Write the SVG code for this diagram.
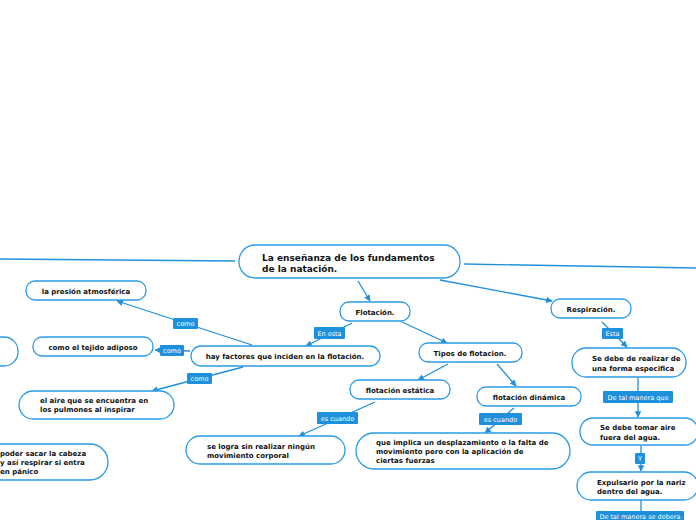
<svg xmlns="http://www.w3.org/2000/svg" width="696" height="520" viewBox="0 0 696 520">
<defs>
<style>
.n{fill:#fff;stroke:#2a9be6;stroke-width:1.3}
.t{font-family:"DejaVu Sans",Verdana,sans-serif;font-weight:bold;font-size:7px;fill:#111}
.tc{text-anchor:middle}
.big{font-size:9px}
.c{fill:none;stroke:#2090dc;stroke-width:1.3}
.lb{fill:#1e90dc}
.lt{font-family:"DejaVu Sans",Verdana,sans-serif;font-size:6.5px;fill:#fff}
</style>
<marker id="a" viewBox="0 0 10 10" refX="9" refY="5" markerWidth="5" markerHeight="5" orient="auto-start-reverse" markerUnits="strokeWidth">
<path d="M0,0 L10,5 L0,10 z" fill="#2090dc"/>
</marker>
</defs>
<rect width="696" height="520" fill="#fff"/>
<g id="connectors">
<path class="c" d="M0,259 L235,261"/>
<path class="c" d="M464,264 L696,268"/>
<path class="c" d="M358,281 L370,301" marker-end="url(#a)"/>
<path class="c" d="M440,280 L552,301" marker-end="url(#a)"/>
<path class="c" d="M352,323 L306,346" marker-end="url(#a)"/>
<path class="c" d="M252,345 L117,301" marker-end="url(#a)"/>
<path class="c" d="M190,351 L155,350" marker-end="url(#a)"/>
<path class="c" d="M243,367 L152,391" marker-end="url(#a)"/>
<path class="c" d="M402,322 L447,343" marker-end="url(#a)"/>
<path class="c" d="M448,364 L418,380" marker-end="url(#a)"/>
<path class="c" d="M497,364 L516,386" marker-end="url(#a)"/>
<path class="c" d="M375,402 L299,436" marker-end="url(#a)"/>
<path class="c" d="M514,408 L485,433" marker-end="url(#a)"/>
<path class="c" d="M602,322 L627,347" marker-end="url(#a)"/>
<path class="c" d="M638,378 L638,417" marker-end="url(#a)"/>
<path class="c" d="M641,446 L641,471" marker-end="url(#a)"/>
<path class="c" d="M641,500 L641,512"/>
<rect class="lb" x="314" y="327" width="31" height="12" rx="1"/>
<text class="lt" x="329.5" y="335.5" text-anchor="middle">En esta</text>
<rect class="lb" x="173" y="318" width="25" height="11" rx="1"/>
<text class="lt" x="185.5" y="326" text-anchor="middle">como</text>
<rect class="lb" x="160" y="345" width="24" height="11" rx="1"/>
<text class="lt" x="172" y="353" text-anchor="middle">como</text>
<rect class="lb" x="187" y="373" width="25" height="11" rx="1"/>
<text class="lt" x="199.5" y="381" text-anchor="middle">como</text>
<rect class="lb" x="317" y="412" width="41" height="12" rx="1"/>
<text class="lt" x="337.5" y="420.5" text-anchor="middle">es cuando</text>
<rect class="lb" x="479" y="413" width="43" height="12" rx="1"/>
<text class="lt" x="500.5" y="421.5" text-anchor="middle">es cuando</text>
<rect class="lb" x="602" y="328" width="21" height="11" rx="1"/>
<text class="lt" x="612.5" y="336" text-anchor="middle">Esta</text>
<rect class="lb" x="603" y="391" width="70" height="12" rx="1"/>
<text class="lt" x="638" y="399.5" text-anchor="middle">De tal manera que</text>
<rect class="lb" x="635" y="453" width="10" height="11" rx="1"/>
<text class="lt" x="640" y="461" text-anchor="middle">Y</text>
<rect class="lb" x="596" y="511" width="88" height="11" rx="1"/>
<text class="lt" x="640" y="519" text-anchor="middle">De tal manera se debera</text>
</g>
<g id="central">
<rect class="n" x="239" y="245" width="221" height="33" rx="16"/>
<text class="t big" x="262" y="261">La enseñanza de los fundamentos</text>
<text class="t big" x="262" y="272">de la natación.</text>
</g>
<g id="flotacion">
<rect class="n" x="340" y="302" width="70" height="19" rx="9"/>
<text class="t tc" x="375" y="314.5">Flotación.</text>
</g>
<g id="respiracion">
<rect class="n" x="551" y="299" width="80" height="19" rx="9"/>
<text class="t tc" x="591" y="311.5">Respiración.</text>
</g>
<g id="factores">
<rect class="n" x="191" y="346" width="189" height="20" rx="10"/>
<text class="t tc" x="285" y="358.5">hay factores que inciden en la flotación.</text>
</g>
<g id="presion">
<rect class="n" x="26" y="281" width="120" height="19" rx="9"/>
<text class="t tc" x="86" y="293.5">la presión atmosférica</text>
</g>
<g id="adiposo">
<rect class="n" x="33" y="337" width="120" height="19" rx="9"/>
<text class="t tc" x="93" y="349.5">como el tejido adiposo</text>
</g>
<g id="partial">
<rect class="n" x="-40" y="337" width="58" height="29" rx="14"/>
</g>
<g id="aire">
<rect class="n" x="19" y="391" width="155" height="28" rx="14"/>
<text class="t" x="40" y="403">el aire que se encuentra en</text>
<text class="t" x="40" y="412">los pulmones al inspirar</text>
</g>
<g id="cabeza">
<rect class="n" x="-40" y="444" width="148" height="36" rx="18"/>
<text class="t" x="0" y="455.5">poder sacar la cabeza</text>
<text class="t" x="0" y="464.5">y así respirar si entra</text>
<text class="t" x="0" y="473.5">en pánico</text>
</g>
<g id="tipos">
<rect class="n" x="419" y="343" width="103" height="19" rx="9"/>
<text class="t tc" x="470" y="355.5">Tipos de flotacion.</text>
</g>
<g id="estatica">
<rect class="n" x="350" y="380" width="100" height="19" rx="9"/>
<text class="t tc" x="400" y="392.5">flotación estática</text>
</g>
<g id="dinamica">
<rect class="n" x="477" y="387" width="104" height="19" rx="9"/>
<text class="t tc" x="529" y="399.5">flotación dinámica</text>
</g>
<g id="logra">
<rect class="n" x="186" y="436" width="159" height="28" rx="14"/>
<text class="t" x="207" y="449">se logra sin realizar ningún</text>
<text class="t" x="207" y="458">movimiento corporal</text>
</g>
<g id="implica">
<rect class="n" x="356" y="433" width="214" height="36" rx="18"/>
<text class="t" x="376" y="445">que implica un desplazamiento o la falta de</text>
<text class="t" x="376" y="454">movimiento pero con la aplicación de</text>
<text class="t" x="376" y="463">ciertas fuerzas</text>
</g>
<g id="especifica">
<rect class="n" x="572" y="348" width="114" height="29" rx="14"/>
<text class="t" x="592" y="361">Se debe de realizar de</text>
<text class="t" x="592" y="371">una forma especifica</text>
</g>
<g id="tomar">
<rect class="n" x="580" y="418" width="118" height="27" rx="13"/>
<text class="t" x="600" y="430">Se debe tomar aire</text>
<text class="t" x="600" y="440">fuera del agua.</text>
</g>
<g id="expulsar">
<rect class="n" x="577" y="472" width="121" height="28" rx="14"/>
<text class="t" x="597" y="484.5">Expulsario por la nariz</text>
<text class="t" x="597" y="494">dentro del agua.</text>
</g>
</svg>
